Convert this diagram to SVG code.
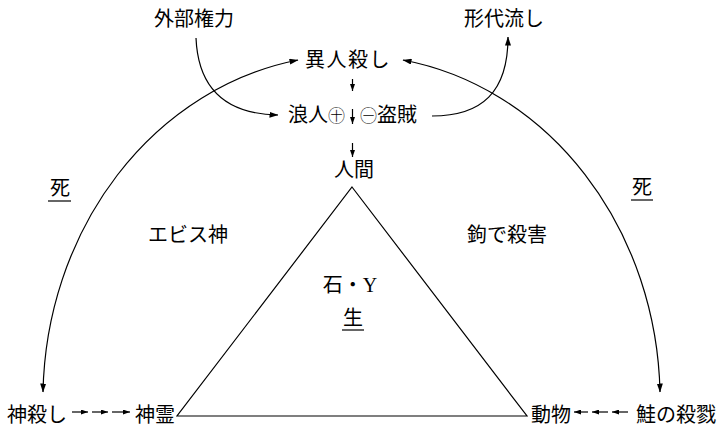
<svg xmlns="http://www.w3.org/2000/svg" width="723" height="430" viewBox="0 0 723 430">
<defs>
<marker id="ah" markerWidth="9" markerHeight="6" refX="8.5" refY="3" orient="auto-start-reverse" markerUnits="userSpaceOnUse">
<path d="M0,0 L9,3 L0,6 z" fill="#000"/>
</marker>
<marker id="sh" markerWidth="7" markerHeight="5" refX="7" refY="2.5" orient="auto-start-reverse" markerUnits="userSpaceOnUse">
<path d="M0,0 L7,2.5 L0,5 z" fill="#000"/>
</marker>
</defs>
<style>
text{font-family:"Liberation Serif","Noto Sans CJK JP",serif;font-size:20px;fill:#000;text-anchor:middle}
.c{fill:none;stroke:#000;stroke-width:1.2}
.u{stroke:#000;stroke-width:1.2}
.sym{font-family:"Noto Sans CJK JP",sans-serif;font-size:17px;font-weight:300}
</style>
<rect width="723" height="430" fill="#fff"/>
<g id="connectors">
<path class="c" d="M43,392 A308.5,345 0 0 1 298,60" marker-start="url(#ah)" marker-end="url(#ah)"/>
<path class="c" d="M403,60 A308.5,345 0 0 1 660,392" marker-start="url(#ah)" marker-end="url(#ah)"/>
<path class="c" d="M196,38 C198,85 222,114 278,115" marker-end="url(#ah)"/>
<path class="c" d="M432,116 C482,116 508,92 508,37" marker-end="url(#ah)"/>
<path class="c" d="M352.5,79 L352.5,91" marker-end="url(#sh)"/>
<path class="c" d="M352.5,109 L352.5,124" marker-end="url(#sh)"/>
<path class="c" d="M352.5,143 L352.5,157" marker-end="url(#sh)"/>
<path class="c" d="M72,412 L88,412" marker-end="url(#sh)"/>
<path class="c" d="M92,412 L108,412" marker-end="url(#sh)"/>
<path class="c" d="M112,412 L130,412" marker-end="url(#sh)"/>
<path class="c" d="M628,412 L612,412" marker-end="url(#sh)"/>
<path class="c" d="M608,412 L592,412" marker-end="url(#sh)"/>
<path class="c" d="M588,412 L574,412" marker-end="url(#sh)"/>
</g>
<g id="triangle">
<path class="c" d="M352,187 L527,416 L177,416 Z" stroke-width="1.4"/>
</g>
<g id="gaibu"><text x="194" y="26">外部権力</text></g>
<g id="katashiro"><text x="504" y="26">形代流し</text></g>
<g id="ijin"><text x="348" y="67" letter-spacing="1.5">異人殺し</text></g>
<g id="ronin"><text x="345" y="122" style="text-anchor:end">浪人<tspan class="sym">㊉</tspan></text></g>
<g id="touzoku"><text x="360" y="122" style="text-anchor:start"><tspan class="sym">㊀</tspan>盗賊</text></g>
<g id="ningen"><text x="354" y="177">人間</text></g>
<g id="ebisu"><text x="188" y="242">エビス神</text></g>
<g id="kagi"><text x="507" y="242">鉤で殺害</text></g>
<g id="shi-left"><text x="60" y="195">死</text><line class="u" x1="48" y1="201" x2="71" y2="201"/></g>
<g id="shi-right"><text x="642" y="194">死</text><line class="u" x1="631" y1="200" x2="653" y2="200"/></g>
<g id="ishi"><text x="350" y="292">石・Y</text></g>
<g id="sei"><text x="353" y="325">生</text><line class="u" x1="342" y1="330" x2="364" y2="330"/></g>
<g id="kamigoroshi"><text x="37" y="422">神殺し</text></g>
<g id="shinrei"><text x="155" y="422">神霊</text></g>
<g id="doubutsu"><text x="551" y="422">動物</text></g>
<g id="sake"><text x="676" y="422">鮭の殺戮</text></g>
</svg>
